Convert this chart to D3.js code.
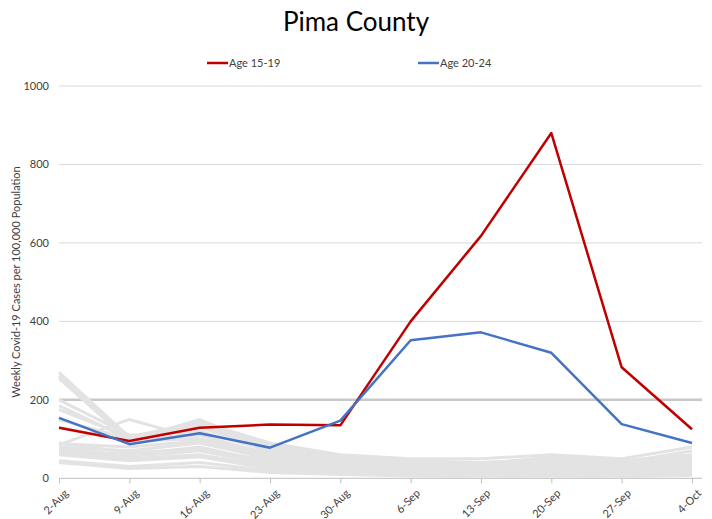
<!DOCTYPE html>
<html><head><meta charset="utf-8">
<script src="https://cdn.jsdelivr.net/npm/d3@7"></script>
<style>body{margin:0;background:#fff;}svg{display:block;font-family:Lato,"Open Sans",sans-serif;}</style>
</head><body><svg id="c" width="712" height="519"></svg>
<script>
const weeks = ["2-Aug","9-Aug","16-Aug","23-Aug","30-Aug","6-Sep","13-Sep","20-Sep","27-Sep","4-Oct"];
const age1519 = [129,95,129,137,135,400,618,880,283,125];
const age2024 = [154,87,115,78,147,352,372,320,138,90];
const yTicks = [0,200,400,600,800,1000];
const otherGroups = [
 [270,105,140,85,55,45,40,50,45,60],
 [262,100,135,80,50,40,35,45,40,55],
 [255,95,150,75,45,35,30,40,35,50],
 [200,110,120,70,40,30,25,35,30,45],
 [185,100,110,60,35,30,25,30,25,40],
 [175,105,145,90,60,50,50,60,50,80],
 [130,95,100,55,30,25,20,25,20,35],
 [85,150,100,65,45,40,35,55,40,70],
 [80,70,90,50,30,20,15,20,15,30],
 [75,60,80,40,25,15,10,15,10,25],
 [70,55,70,35,20,15,12,18,12,20],
 [65,50,60,30,18,12,10,12,8,15],
 [60,45,55,25,15,10,8,10,6,12],
 [45,30,40,20,12,8,5,8,5,10],
 [40,25,30,15,10,6,4,6,4,8],
 [88,80,95,60,40,35,30,38,28,50],
 [150,100,130,75,45,38,32,42,35,60],
 [90,65,75,45,28,22,18,22,18,35]
];

const svg = d3.select("#c");
const x = d3.scalePoint().domain(weeks).range([59, 692]);
const y = d3.scaleLinear().domain([0,1000]).range([478.3, 86]);

svg.append("text").attr("x",356).attr("y",31).attr("text-anchor","middle")
  .attr("font-size",26).attr("fill","#000").text("Pima County");

// gridlines
svg.append("g").selectAll("line").data(yTicks.filter(d=>d>0)).join("line")
  .attr("x1",59).attr("x2",702).attr("y1",d=>y(d)).attr("y2",d=>y(d))
  .attr("stroke",d=>d===200?"#c8c8c8":"#d9d9d9").attr("stroke-width",d=>d===200?2.5:1);

// y axis labels
const ya = svg.append("g").attr("transform","translate(59,0)")
  .call(d3.axisLeft(y).tickValues(yTicks).tickSize(0).tickPadding(10).tickFormat(d3.format("d")));
ya.select(".domain").remove();
ya.selectAll("text").attr("font-size",11).attr("fill","#404040").attr("font-family","Lato,'Open Sans',sans-serif");

svg.append("text").attr("transform","translate(20,282) rotate(-90)").attr("text-anchor","middle")
  .attr("font-size",11).attr("fill","#404040").text("Weekly Covid-19 Cases per 100,000 Population");

// x axis
const xa = svg.append("g").attr("transform","translate(0,478.3)")
  .call(d3.axisBottom(x).tickSize(5).tickSizeOuter(0));
xa.select(".domain").attr("stroke","#bfbfbf").attr("d","M59,0H702");
xa.selectAll(".tick line").attr("stroke","#bfbfbf");
xa.selectAll("text").attr("font-size",11).attr("fill","#404040")
  .attr("font-family","Lato,'Open Sans',sans-serif")
  .attr("text-anchor","end").attr("dy",0).attr("transform","translate(4,10) rotate(-45)");

const line = d3.line().x((d,i)=>x(weeks[i])).y(d=>y(d));

svg.append("g").selectAll("path").data(otherGroups).join("path")
  .attr("d",line).attr("fill","none").attr("stroke","#e3e3e3").attr("stroke-width",3)
  .attr("stroke-linejoin","round");

svg.append("path").datum(age1519).attr("d",line).attr("fill","none")
  .attr("stroke","#c00000").attr("stroke-width",2.5).attr("stroke-linejoin","round");
svg.append("path").datum(age2024).attr("d",line).attr("fill","none")
  .attr("stroke","#4472c4").attr("stroke-width",2.5).attr("stroke-linejoin","round");

// legend
const leg = [{n:"Age 15-19",c:"#c00000",x:207},{n:"Age 20-24",c:"#4472c4",x:418}];
const lg = svg.append("g").selectAll("g").data(leg).join("g");
lg.append("line").attr("x1",d=>d.x).attr("x2",d=>d.x+21).attr("y1",63).attr("y2",63)
  .attr("stroke",d=>d.c).attr("stroke-width",2.5);
lg.append("text").attr("x",d=>d.x+22).attr("y",67).attr("font-size",11).attr("fill","#404040").text(d=>d.n);
</script></body></html>
